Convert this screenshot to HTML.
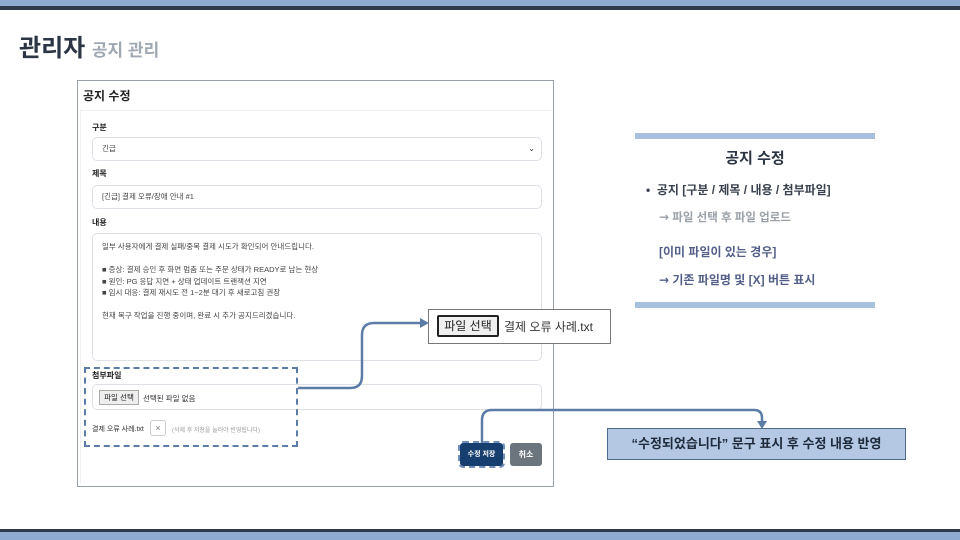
<!DOCTYPE html>
<html><head><meta charset="utf-8"><style>
*{margin:0;padding:0;box-sizing:border-box}
body{width:960px;height:540px;position:relative;background:#fff;font-family:"Liberation Sans","Noto Sans CJK KR",sans-serif;overflow:hidden}
.a{position:absolute}
.lbl{font-size:8px;font-weight:bold;color:#222}
.fld{border:1px solid #dde1e6;border-radius:5px;background:#fff;font-size:7.5px;color:#444;padding-left:9px}
.ar{font-family:"DejaVu Sans",sans-serif;font-size:12px}
</style></head><body>
<div class="a" style="left:0;top:0;width:960px;height:6px;background:#8eaad0"></div>
<div class="a" style="left:0;top:6px;width:960px;height:4px;background:#2e3a4a"></div>
<div class="a" style="left:0;top:529px;width:960px;height:3px;background:#2e3a4a"></div>
<div class="a" style="left:0;top:532px;width:960px;height:8px;background:#8eaad0"></div>
<div class="a" style="left:19px;top:28px;font-size:24px;font-weight:bold;color:#2c3543">관리자 <span style="font-size:17px;color:#a0a8b4">공지 관리</span></div>

<div class="a" style="left:77px;top:80px;width:477px;height:407px;border:1px solid #9aa0a8;background:#fff"></div>
<div class="a" style="left:83px;top:87px;font-size:12px;font-weight:bold;color:#222">공지 수정</div>
<div class="a" style="left:80px;top:110px;width:471px;height:374px;border:1px solid #f0f0f0;border-right:none;border-bottom:none"></div>
<div class="a lbl" style="left:92px;top:122px">구분</div>
<div class="a fld" style="left:92px;top:137px;width:450px;height:24px;line-height:22px">긴급<span style="position:absolute;right:6px;font-size:8px;color:#333">⌄</span></div>
<div class="a lbl" style="left:92px;top:168px">제목</div>
<div class="a fld" style="left:92px;top:185px;width:450px;height:24px;line-height:22px">[긴급] 결제 오류/장애 안내 #1</div>
<div class="a lbl" style="left:92px;top:217px">내용</div>
<div class="a fld" style="left:92px;top:233px;width:450px;height:128px;padding-top:7px;line-height:11.5px">일부 사용자에게 결제 실패/중복 결제 시도가 확인되어 안내드립니다.<br><br>■ 증상: 결제 승인 후 화면 멈춤 또는 주문 상태가 READY로 남는 현상<br>■ 원인: PG 응답 지연 + 상태 업데이트 트랜잭션 지연<br>■ 임시 대응: 결제 재시도 전 1~2분 대기 후 새로고침 권장<br><br>현재 복구 작업을 진행 중이며, 완료 시 추가 공지드리겠습니다.</div>
<div class="a lbl" style="left:92px;top:370px">첨부파일</div>
<div class="a fld" style="left:92px;top:384px;width:450px;height:26px"></div>
<div class="a" style="left:99px;top:390px;width:40px;height:15px;border:1px solid #aaa;background:#eee;font-size:7.5px;line-height:13px;text-align:center;color:#222">파일 선택</div>
<div class="a" style="left:143px;top:393px;font-size:7.5px;color:#333">선택된 파일 없음</div>
<div class="a" style="left:92px;top:424px;font-size:7px;color:#333">결제 오류 사례.txt</div>
<div class="a" style="left:150px;top:420px;width:16px;height:16px;border:1px solid #ccc;border-radius:3px;font-size:9px;text-align:center;line-height:14px;color:#777">×</div>
<div class="a" style="left:172px;top:425px;font-size:6px;color:#999">(삭제 후 저장을 눌러야 반영됩니다)</div>
<div class="a" style="left:84px;top:367px;width:214px;height:80px;border:2px dashed #5b7ca6"></div>
<div class="a" style="left:460px;top:443px;width:43px;height:23px;background:#163e6e;border-radius:3px;color:#fff;font-size:7px;font-weight:bold;text-align:center;line-height:23px;outline:2px dashed #6f8fb8">수정 저장</div>
<div class="a" style="left:510px;top:443px;width:32px;height:23px;background:#6c757d;border-radius:3px;color:#fff;font-size:8px;font-weight:bold;text-align:center;line-height:23px">취소</div>

<div class="a" style="left:428px;top:309px;width:183px;height:35px;border:1px solid #777;background:#fff"></div>
<div class="a" style="left:437px;top:315px;width:62px;height:22px;border:2px solid #222;border-radius:2px;background:#f0f0f0;font-size:12px;line-height:18px;text-align:center;color:#222">파일 선택</div>
<div class="a" style="left:504px;top:318px;font-size:12px;color:#333">결제 오류 사례.txt</div>

<svg class="a" style="left:0;top:0" width="960" height="540">
<path d="M298 388 H350 Q362 388 362 376 V335 Q362 323 374 323 H420" fill="none" stroke="#5b7ca6" stroke-width="2.5"/>
<path d="M420 318 L429 323 L420 328Z" fill="#5b7ca6"/>
<path d="M482 443 V420 Q482 410 492 410 H754 Q762 410 762 418 V422" fill="none" stroke="#5b7ca6" stroke-width="2.5"/>
<path d="M757 421 L762 429 L767 421Z" fill="#5b7ca6"/>
</svg>

<div class="a" style="left:635px;top:133px;width:240px;height:6px;background:#a7c0e0"></div>
<div class="a" style="left:635px;top:302px;width:240px;height:6px;background:#a7c0e0"></div>
<div class="a" style="left:635px;top:147px;width:240px;text-align:center;font-size:15px;font-weight:bold;color:#2c3543">공지 수정</div>
<div class="a" style="left:646px;top:181px;font-size:12px;font-weight:bold;color:#3a4250">•&nbsp; 공지 [구분 / 제목 / 내용 / 첨부파일]</div>
<div class="a" style="left:659px;top:209px;font-size:11.5px;font-weight:bold;color:#9aa0a8"><span class="ar">→</span> 파일 선택 후 파일 업로드</div>
<div class="a" style="left:659px;top:243px;font-size:12px;font-weight:bold;color:#535f88">[이미 파일이 있는 경우]</div>
<div class="a" style="left:659px;top:271px;font-size:12px;font-weight:bold;color:#535f88"><span class="ar">→</span> 기존 파일명 및 [X] 버튼 표시</div>

<div class="a" style="left:607px;top:428px;width:299px;height:32px;background:#b4c8e4;border:1.5px solid #4f6b8f;font-size:13px;font-weight:bold;color:#1f2a3a;text-align:center;line-height:29px">“수정되었습니다” 문구 표시 후 수정 내용 반영</div>
</body></html>
